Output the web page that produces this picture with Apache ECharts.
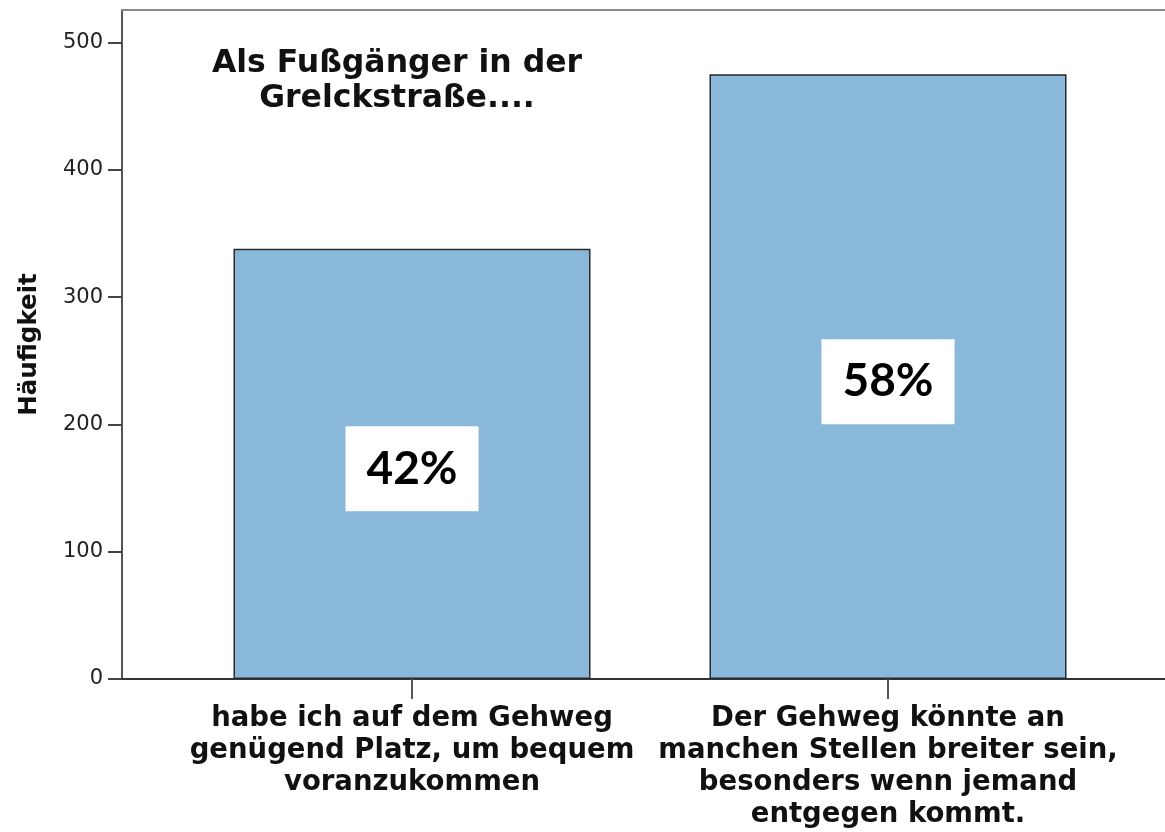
<!DOCTYPE html>
<html>
<head>
<meta charset="utf-8">
<script src="https://cdn.jsdelivr.net/npm/echarts@6/dist/echarts.min.js"></script>
<style>html,body{margin:0;padding:0;background:#fff;}#c{width:1165px;height:832px;}</style>
</head>
<body>
<div id="c"></div>
<script>
const categories = [
  'habe ich auf dem Gehweg\ngenügend Platz, um bequem\nvoranzukommen',
  'Der Gehweg könnte an\nmanchen Stellen breiter sein,\nbesonders wenn jemand\nentgegen kommt.'
];
const counts = [338, 475];
const percentLabels = ['42%', '58%'];
const yTicks = [0, 100, 200, 300, 400, 500];
const titleText = 'Als Fußgänger in der\nGrelckstraße....';
const yAxisTitle = 'Häufigkeit';

const positions = categories.map((c, i) => i + 1);
const chart = echarts.init(document.getElementById('c'), null, {renderer: 'canvas'});
const xMin = 1 - 290 / 476;
const xMax = xMin + 1043 / 476;
const font = 'DejaVu Sans';

chart.setOption({
  animation: false,
  backgroundColor: '#ffffff',
  title: {
    text: titleText,
    left: 397,
    top: 46,
    padding: 0,
    textAlign: 'center',
    textStyle: {fontFamily: font, fontWeight: 'bold', fontSize: 31.5, lineHeight: 35, color: '#111'}
  },
  grid: {left: 122, right: 0, top: 10, bottom: 153, outerBoundsMode: 'none', containLabel: false},
  xAxis: [{
    type: 'value',
    min: xMin,
    max: xMax,
    splitLine: {show: false},
    axisLine: {show: true, onZero: false, lineStyle: {color: '#333', width: 2}},
    axisTick: {show: true, customValues: positions, length: 20, lineStyle: {color: '#555', width: 2}},
    axisLabel: {
      customValues: positions,
      formatter: v => categories[Math.round(v) - 1] || '',
      margin: 24,
      fontFamily: font, fontWeight: 'bold', fontSize: 27.5, lineHeight: 32,
      color: '#111', verticalAlign: 'top', align: 'center'
    }
  }, {
    type: 'value',
    position: 'top',
    min: xMin,
    max: xMax,
    splitLine: {show: false},
    axisLine: {show: true, onZero: false, lineStyle: {color: '#8a8a8a', width: 2}},
    axisTick: {show: false},
    axisLabel: {show: false}
  }],
  yAxis: {
    type: 'value',
    min: 0,
    max: 525.5,
    interval: 100,
    name: yAxisTitle,
    nameLocation: 'middle',
    nameRotate: 90,
    nameGap: 80,
    nameTextStyle: {fontFamily: font, fontWeight: 'bold', fontSize: 24.5, color: '#111'},
    splitLine: {show: false},
    axisLine: {show: true, lineStyle: {color: '#555', width: 2}},
    axisTick: {show: true, length: 14, customValues: yTicks, lineStyle: {color: '#444', width: 2}},
    axisLabel: {
      margin: 19,
      fontFamily: font, fontSize: 21, color: '#222',
      customValues: yTicks
    }
  },
  series: [{
    type: 'bar',
    xAxisIndex: 0,
    barWidth: 357,
    data: counts.map((v, i) => [positions[i], v]),
    itemStyle: {color: '#89b8db', borderColor: '#2a2a2a', borderWidth: 1.5},
    label: {
      show: true,
      position: 'inside',
      offset: [0, 5],
      formatter: p => percentLabels[p.dataIndex],
      fontFamily: 'Lato', fontWeight: 'bold', fontSize: 46, lineHeight: 50,
      color: '#000',
      backgroundColor: '#ffffff',
      padding: [18, 21, 17, 21]
    }
  }]
});
</script>
</body>
</html>
